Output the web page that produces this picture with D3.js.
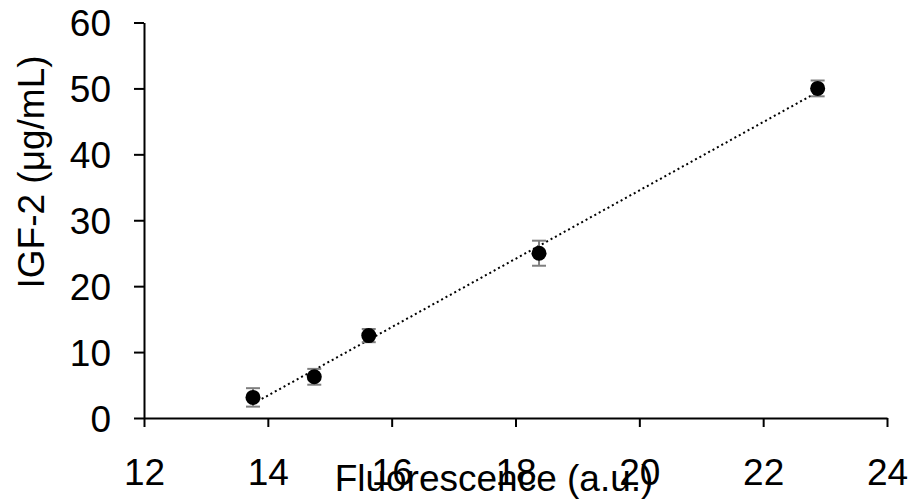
<!DOCTYPE html>
<html>
<head>
  <meta charset="utf-8">
  <title>IGF-2 standard curve</title>
  <script src="https://cdnjs.cloudflare.com/ajax/libs/d3/7.8.5/d3.min.js"></script>
  <style>
  body { margin: 0; background: #fff; }
  svg text { font-family: "Liberation Sans", Arial, sans-serif; fill: #000; }
  </style>
</head>
<body>
<script>

// data
var fluorescence = [13.76, 14.75, 15.63, 18.38, 22.88];
var igf2 = [3.125, 6.25, 12.5, 25, 50];
var igf2Err = [1.4, 1.2, 1.0, 1.9, 1.2];

var xTicks = [12, 14, 16, 18, 20, 22, 24];
var yTicks = [0, 10, 20, 30, 40, 50, 60];

var width = 912;
var height = 502;
var fontSize = 37;

var svg = d3.select("body").append("svg")
        .attr("width", width)
        .attr("height", height);

var xScale = d3.scaleLinear()
        .domain([12, 24])
        .range([144, 887]);

var yScale = d3.scaleLinear()
        .domain([0, 60])
        .range([418, 22.5]);

// least squares trendline from the points
var mx = d3.mean(fluorescence), my = d3.mean(igf2);
var sxy = d3.sum(fluorescence, function(x, i) { return (x - mx) * (igf2[i] - my); });
var sxx = d3.sum(fluorescence, function(x) { return (x - mx) * (x - mx); });
var slope = sxy / sxx;
var intercept = my - slope * mx;
var xEnds = d3.extent(fluorescence);

svg.append("line")
        .attr("x1", xScale(xEnds[0]))
        .attr("y1", yScale(slope * xEnds[0] + intercept))
        .attr("x2", xScale(xEnds[1]))
        .attr("y2", yScale(slope * xEnds[1] + intercept))
        .attr("stroke", "#000")
        .attr("stroke-width", 2)
        .attr("stroke-dasharray", "2,3");

// error bars
var pts = fluorescence.map(function(x, i) { return {x: x, y: igf2[i], e: igf2Err[i]}; });
var capW = 7;

var bars = svg.append("g")
        .attr("stroke", "#7f7f7f")
        .attr("stroke-width", 2);

bars.selectAll(".stem")
        .data(pts)
        .enter().append("line")
        .attr("x1", function(d) { return xScale(d.x); })
        .attr("x2", function(d) { return xScale(d.x); })
        .attr("y1", function(d) { return yScale(d.y - d.e); })
        .attr("y2", function(d) { return yScale(d.y + d.e); });

["top", "bottom"].forEach(function(side) {
  bars.selectAll(".cap-" + side)
        .data(pts)
        .enter().append("line")
        .attr("x1", function(d) { return xScale(d.x) - capW; })
        .attr("x2", function(d) { return xScale(d.x) + capW; })
        .attr("y1", function(d) { return yScale(side == "top" ? d.y + d.e : d.y - d.e); })
        .attr("y2", function(d) { return yScale(side == "top" ? d.y + d.e : d.y - d.e); });
});

svg.selectAll("circle")
        .data(pts)
        .enter().append("circle")
        .attr("cx", function(d) { return xScale(d.x); })
        .attr("cy", function(d) { return yScale(d.y); })
        .attr("r", 7.5)
        .attr("fill", "#000");

// axes
var xAxis = d3.axisBottom(xScale)
        .tickValues(xTicks)
        .tickSize(9)
        .tickSizeOuter(0);

var yAxis = d3.axisLeft(yScale)
        .tickValues(yTicks)
        .tickSize(10)
        .tickSizeOuter(0)
        .tickPadding(23);

var xAxisGroup = svg.append("g")
        .attr("transform", "translate(0," + yScale(0) + ")")
        .call(xAxis);

var yAxisGroup = svg.append("g")
        .attr("transform", "translate(" + xScale(12) + ",0)")
        .call(yAxis);

[xAxisGroup, yAxisGroup].forEach(function(g) {
  g.selectAll("path, line").attr("stroke", "#000").attr("stroke-width", 2);
  g.selectAll("text")
        .attr("font-family", "Liberation Sans, Arial, sans-serif")
        .attr("font-size", fontSize)
        .attr("fill", "#000");
});

// x tick labels: baseline 67px under the axis line
xAxisGroup.selectAll("text").attr("dy", null).attr("y", 67);
yAxisGroup.selectAll("text").attr("dy", "0.36em");

// axis titles
svg.append("text")
        .attr("x", 494)
        .attr("y", 491)
        .attr("text-anchor", "middle")
        .attr("font-size", fontSize)
        .text("Fluorescence (a.u.)");

svg.append("text")
        .attr("transform", "translate(44,172) rotate(-90)")
        .attr("text-anchor", "middle")
        .attr("font-size", fontSize)
        .text("IGF-2 (μg/mL)");

</script>
</body>
</html>
